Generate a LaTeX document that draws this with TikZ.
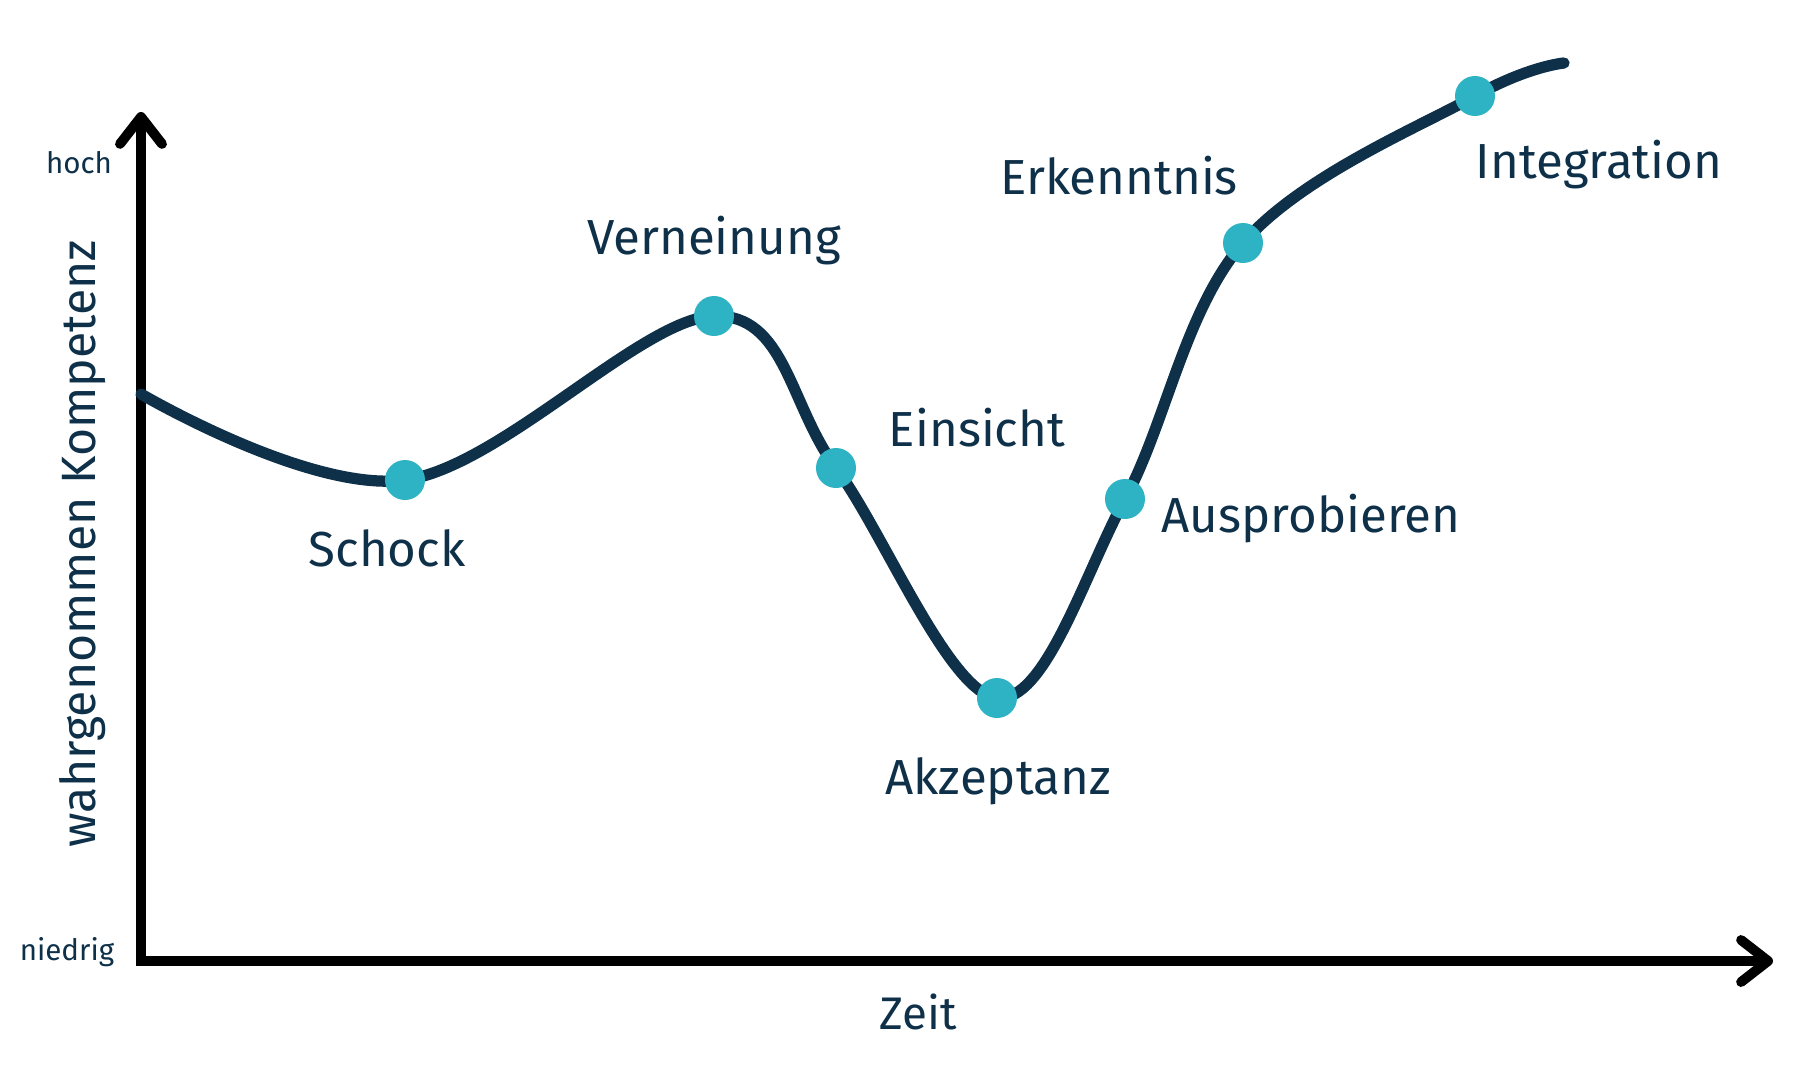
\documentclass[tikz,border=0pt]{standalone}
\usepackage{fontspec}
\setmainfont{Fira Sans}
\usetikzlibrary{arrows.meta}
\definecolor{navy}{HTML}{0E3049}
\definecolor{dotcol}{HTML}{2EB3C4}

\begin{document}
\begin{tikzpicture}[x=0.01cm, y=-0.01cm,
		axis/.style={line width=2.8pt, {Straight Barb[length=0.27cm,width=0.42cm,line cap=round,line join=round]}-{Straight Barb[length=0.27cm,width=0.42cm,line cap=round,line join=round]}},
		phase/.style={circle, fill=dotcol, minimum size=0.4cm, inner sep=0pt},
		lbl/.style={text=navy, font=\fontsize{14}{16}\selectfont},
		tick/.style={text=navy, font=\fontsize{8.4}{10}\selectfont}]
		\useasboundingbox (0,0) rectangle (1799,1072);
		% axes
		\coordinate (ytop) at (141,112);
		\coordinate (o) at (141,961);
		\coordinate (xend) at (1773,961);
		\draw[axis] (ytop) -- (o) -- (xend);
		\node[tick] (hoch) at (79,163) {hoch};
		\node[tick] (niedrig) at (67,952) {niedrig};
		\node[lbl, font=\fontsize{13}{15}\selectfont] (zeit) at (918,1012) {Zeit};
		\node[lbl, rotate=90, font=\fontsize{13.7}{15}\selectfont] (kompetenz) at (83,544) {wahrgenommen Kompetenz};
		% curve points
		\coordinate (start) at (141,394);
		\coordinate (schock) at (405,480);
		\coordinate (vern) at (714,316);
		\coordinate (eins) at (836,468);
		\coordinate (akz) at (997,698);
		\coordinate (ausp) at (1125,499);
		\coordinate (erk) at (1243,243);
		\coordinate (integ) at (1475,96);
		\coordinate (ende) at (1564,63);
		\draw[navy, line width=3.2pt, line cap=round] plot[smooth, tension=0.6] coordinates {(start) (schock) (vern) (eins) (akz) (ausp) (erk) (integ) (ende)};
		% phases
		\node[phase] (d1) at (schock) {};
		\node[phase] (d2) at (vern) {};
		\node[phase] (d3) at (eins) {};
		\node[phase] (d4) at (akz) {};
		\node[phase] (d5) at (ausp) {};
		\node[phase] (d6) at (erk) {};
		\node[phase] (d7) at (integ) {};
		\node[lbl] (l1) at (387,548) {Schock};
		\node[lbl] (l2) at (714,241) {Verneinung};
		\node[lbl] (l3) at (977,428) {Einsicht};
		\node[lbl] (l4) at (998,781) {Akzeptanz};
		\node[lbl] (l5) at (1311,519) {Ausprobieren};
		\node[lbl] (l6) at (1119,176) {Erkenntnis};
		\node[lbl] (l7) at (1599,165) {Integration};
	\end{tikzpicture}
\end{document}
